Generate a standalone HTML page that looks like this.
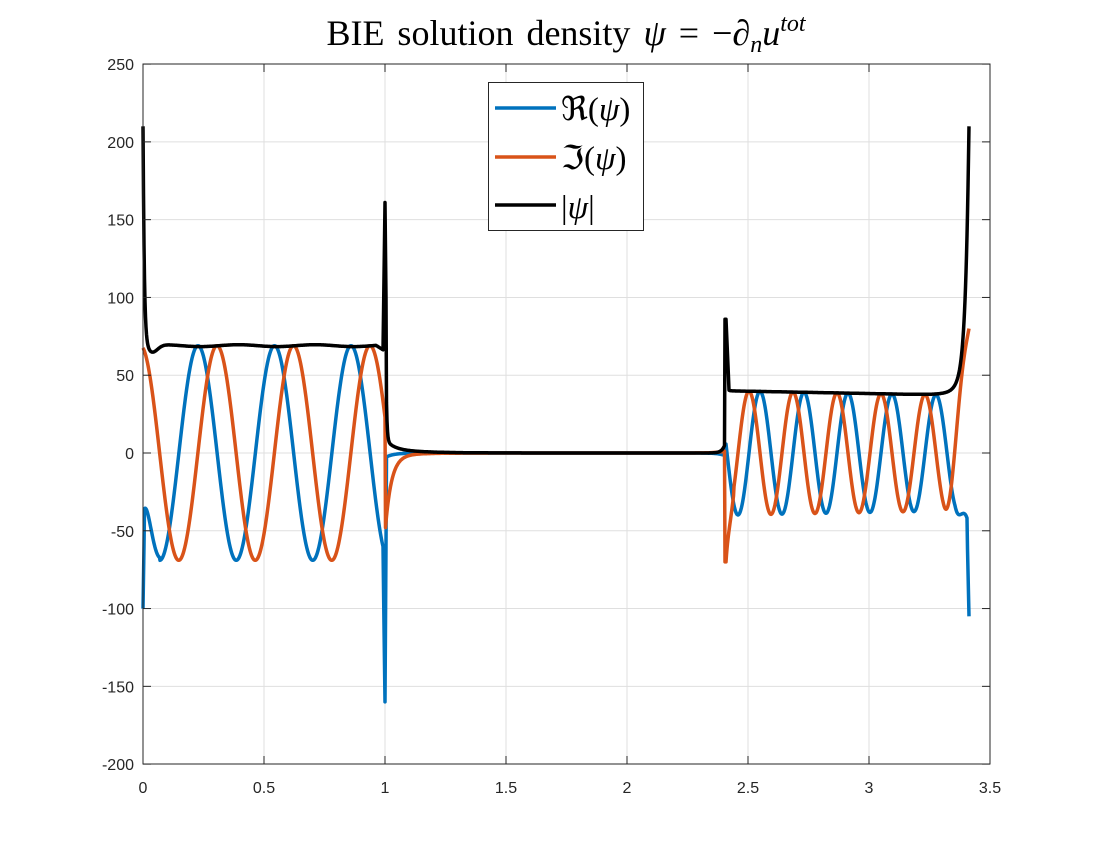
<!DOCTYPE html>
<html><head><meta charset="utf-8"><style>
html,body{margin:0;padding:0;background:#fff;}
svg{display:block;}
.t{font-family:"Liberation Sans",sans-serif;font-size:16px;fill:#262626;}
</style></head><body>
<svg id="s" width="1094" height="859" xmlns="http://www.w3.org/2000/svg">
<rect width="1094" height="859" fill="#fff"/>
<g id="grid" stroke="#dfdfdf" stroke-width="1"></g>
<g id="ser" fill="none" stroke-width="3.5" stroke-linejoin="round"></g>
<rect x="143" y="64" width="847" height="700" fill="none" stroke="#262626" stroke-width="1"/>
<g id="ticks" stroke="#262626" stroke-width="1"></g>
<g id="lab"></g>
<text x="566" y="45" text-anchor="middle" font-family="Liberation Serif,serif" font-size="36" word-spacing="4" fill="#000">BIE solution density <tspan font-style="italic">ψ</tspan> = −∂<tspan font-style="italic" font-size="24" dy="7">n</tspan><tspan font-style="italic" dy="-7">u</tspan><tspan font-style="italic" font-size="24" dy="-14">tot</tspan></text>
<rect x="488.5" y="82.5" width="155" height="148" fill="#fff" stroke="#262626" stroke-width="1"/>
<line x1="495" y1="108" x2="556" y2="108" stroke="#0072bd" stroke-width="3.5"/>
<line x1="495" y1="157" x2="556" y2="157" stroke="#d95319" stroke-width="3.5"/>
<line x1="495" y1="205" x2="556" y2="205" stroke="#000" stroke-width="3.5"/>
<text x="561" y="120" font-family="Liberation Serif,serif" font-size="33" fill="#000">ℜ(<tspan font-style="italic">ψ</tspan>)</text>
<text x="561" y="169" font-family="Liberation Serif,serif" font-size="33" fill="#000">ℑ(<tspan font-style="italic">ψ</tspan>)</text>
<text x="561" y="218" font-family="Liberation Serif,serif" font-size="33" fill="#000">|<tspan font-style="italic">ψ</tspan>|</text>
</svg>
<script>
var NS="http://www.w3.org/2000/svg";
function el(p,n,a,txt){var e=document.createElementNS(NS,n);for(var k in a)e.setAttribute(k,a[k]);if(txt!==undefined)e.textContent=txt;document.getElementById(p).appendChild(e);}
function X(v){return 143+v*242;}
function Y(v){return 453-v*1.5556;}
for(var i=0;i<=7;i++){var x=X(i*0.5);
 if(i>0&&i<7)el("grid","line",{x1:x,y1:64,x2:x,y2:764});
 el("ticks","line",{x1:x,y1:764,x2:x,y2:756});el("ticks","line",{x1:x,y1:64,x2:x,y2:72});
 el("lab","text",{x:x,y:793,"text-anchor":"middle","class":"t"},String(i*0.5));}
for(var v=-200;v<=250;v+=50){var y=Y(v);
 if(v>-200&&v<250)el("grid","line",{x1:143,y1:y,x2:990,y2:y});
 el("ticks","line",{x1:143,y1:y,x2:151,y2:y});el("ticks","line",{x1:990,y1:y,x2:982,y2:y});
 el("lab","text",{x:134,y:y+6,"text-anchor":"end","class":"t"},String(v));}
var R=[],I=[],A=[];
var TP=2*Math.PI;
for(var p=143;p<=969;p+=0.5){
 var r,im,a;
 if(p<=385){
  r=69*Math.cos(TP*(p-198)/76.5);
  im=69*Math.cos(TP*(p-217)/76.5);
  if(p<160){var w=Math.exp(-(p-143)/6);r=r*(1-w)+(-40)*w;}
  if(p<144.5)r=-100+(p-143)*40;
  a=69+0.6*Math.sin(TP*(p-143)/76.5);
  a-=5*Math.exp(-(p-152)*(p-152)/60);
  a+=140*Math.exp(-(p-143)/1.2)+8*Math.exp(-(p-143)/3);
  if(p>376)a-=4*(p-376)/9;
  if(p>383){r=r+(-160-r)*(p-383)/2;a=65+(p-383)*48;}
 } else if(p<726){
  var d=p-385;
  r=-3*Math.exp(-d/8);
  im=-50*Math.exp(-d/6)-2*Math.exp(-d/25);
  a=Math.max(160*Math.exp(-d/0.8),0)+6*Math.exp(-d/8)+3*Math.exp(-d/30);
  if(d<1.5){r=-160+d*100;a=160-d*60;}
  var e=726-p;
  r-=2*Math.exp(-e/6);im+=1.5*Math.exp(-e/8);a+=8*Math.exp(-e/3);
  if(e<1.5){im=-70;a=86;}
 } else {
  var amp=40-3*(p-726)/242;
  r=amp*Math.cos(TP*(p-760)/44);
  im=amp*Math.cos(TP*(p-749)/44);
  var d2=p-726;
  if(d2<8){var w2=Math.exp(-d2/3);im=im*(1-w2)+(-70)*w2;}
  a=40-3*(p-726)/242+5*Math.exp(-d2/1.2);
  if(d2<3)a=86-d2*15;
  var e2=969-p;
  if(e2<25){var w3=Math.pow((25-e2)/25,2);im=im*(1-w3)+80*w3;}
  a+=160*Math.exp(-e2/3.5)+15*Math.exp(-e2/10);
  if(e2<14){var w4=(14-e2)/14;r=r*(1-w4)+(-47)*w4;}
  if(e2<2)r=-47-(2-e2)*29;
 }
 R.push(p+","+Y(r).toFixed(1));I.push(p+","+Y(im).toFixed(1));A.push(p+","+Y(Math.min(a,210)).toFixed(1));
}
el("ser","polyline",{points:R.join(" "),stroke:"#0072bd"});
el("ser","polyline",{points:I.join(" "),stroke:"#d95319"});
el("ser","polyline",{points:A.join(" "),stroke:"#000"});
</script>
</body></html>
